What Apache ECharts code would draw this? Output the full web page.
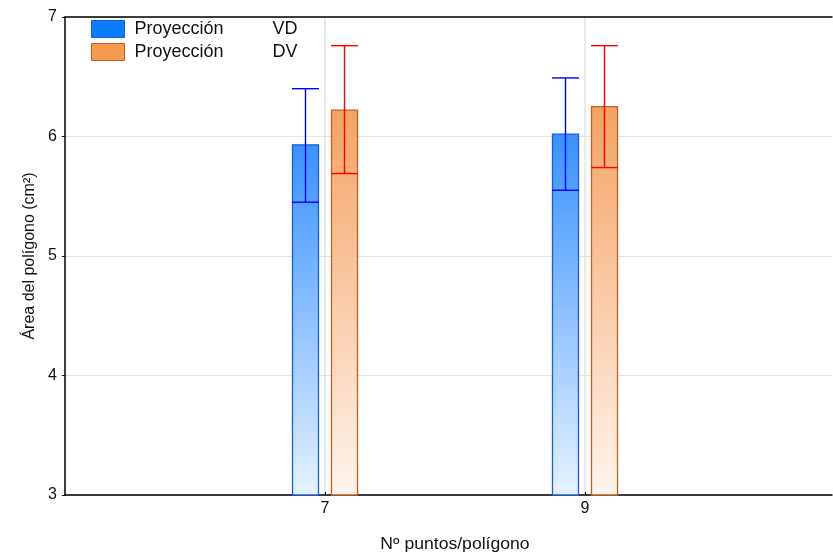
<!DOCTYPE html>
<html>
<head>
<meta charset="utf-8">
<script src="https://cdn.jsdelivr.net/npm/echarts@6/dist/echarts.min.js"></script>
<style>
  html, body { margin: 0; padding: 0; background: #fff; }
  #chart { width: 833px; height: 555px; }
</style>
</head>
<body>
<div id="chart"></div>
<script>
// Number of points per polygon (x categories)
const puntos = [7, 9];
// Projection VD: mean and interval limits
const vdMedia = [5.93, 6.02];
const vdInf = [5.45, 5.55];
const vdSup = [6.40, 6.49];
// Projection DV: mean and interval limits
const dvMedia = [6.22, 6.25];
const dvInf = [5.69, 5.74];
const dvSup = [6.76, 6.76];
// Axis ticks
const yTicks = [3, 4, 5, 6, 7];
const xTicks = [7, 9];

const FONT = 'Liberation Sans, Arial, sans-serif';
const X_MIN = 5, X_MAX = 10.9;

function rows(media, inf, sup) {
  return puntos.map((p, i) => [p, media[i], inf[i], sup[i]]);
}

function makeRender(offset, fill, border, errColor) {
  return function (params, api) {
    const x = api.value(0);
    const top = api.coord([x, api.value(1)]);
    const base = api.coord([x, yTicks[0]]);
    const lo = api.coord([x, api.value(2)]);
    const hi = api.coord([x, api.value(3)]);
    const w = 26;
    const cx = top[0] + offset;
    const half = w / 2;
    return {
      type: 'group',
      children: [
        {
          type: 'rect',
          shape: { x: cx - half, y: top[1], width: w, height: base[1] - top[1] },
          style: { fill: fill, stroke: border, lineWidth: 1.3 }
        },
        {
          type: 'line',
          shape: { x1: cx, y1: hi[1], x2: cx, y2: lo[1] },
          style: { stroke: errColor, lineWidth: 1.4 }
        },
        {
          type: 'line',
          shape: { x1: cx - half - 0.5, y1: hi[1], x2: cx + half + 0.5, y2: hi[1] },
          style: { stroke: errColor, lineWidth: 1.4 }
        },
        {
          type: 'line',
          shape: { x1: cx - half - 0.5, y1: lo[1], x2: cx + half + 0.5, y2: lo[1] },
          style: { stroke: errColor, lineWidth: 1.4 }
        }
      ]
    };
  };
}

const blueFill = {
  type: 'linear', x: 0, y: 0, x2: 0, y2: 1,
  colorStops: [{ offset: 0, color: '#3791ff' }, { offset: 1, color: '#e6f2ff' }]
};
const orangeFill = {
  type: 'linear', x: 0, y: 0, x2: 0, y2: 1,
  colorStops: [{ offset: 0, color: '#f5a263' }, { offset: 1, color: '#fef5ee' }]
};

const chart = echarts.init(document.getElementById('chart'), null, { renderer: 'canvas' });

chart.setOption({
  animation: false,
  backgroundColor: '#fff',
  grid: { left: 65, top: 17, right: 1, height: 478 },
  legend: {
    left: 86, top: 15, orient: 'vertical',
    itemWidth: 33, itemHeight: 17, itemGap: 5,
    icon: 'rect',
    data: [
      { name: 'Proyección VD', itemStyle: { color: '#0a7cff', borderColor: '#1a5ce0', borderWidth: 1 } },
      { name: 'Proyección DV', itemStyle: { color: '#f59a50', borderColor: '#c0601f', borderWidth: 1 } }
    ],
    formatter: function (name) {
      const parts = name.split(' ');
      return '{a|' + parts[0] + '}{b|' + parts[1] + '}';
    },
    textStyle: {
      rich: {
        a: { fontFamily: FONT, fontSize: 18, lineHeight: 17, color: '#111', width: 138, padding: [0, 0, 0, 5] },
        b: { fontFamily: FONT, fontSize: 18, lineHeight: 17, color: '#111' }
      }
    }
  },
  xAxis: [
    {
      type: 'value', min: X_MIN, max: X_MAX,
      axisLine: { show: true, lineStyle: { color: '#000', width: 1.5 } },
      axisTick: { show: true, inside: true, length: 3, customValues: xTicks, lineStyle: { color: '#000' } },
      axisLabel: {
        customValues: xTicks, margin: 6,
        fontFamily: FONT, fontSize: 16, color: '#111'
      },
      splitLine: { show: true, lineStyle: { color: '#e2e2e2', width: 1.5 } }
    },
    {
      // plain frame line along the top of the plot
      type: 'value', position: 'top', min: X_MIN, max: X_MAX,
      axisLine: { show: true, onZero: false, lineStyle: { color: '#000', width: 1.5 } },
      axisTick: { show: false },
      axisLabel: { show: false },
      splitLine: { show: false }
    }
  ],
  yAxis: {
    type: 'value', min: 3, max: 7, interval: 1,
    axisLine: { show: true, lineStyle: { color: '#000', width: 1.5 } },
    axisTick: { show: true, length: 3, lineStyle: { color: '#000' } },
    axisLabel: { margin: 8, fontFamily: FONT, fontSize: 16, color: '#111' },
    splitLine: { show: true, lineStyle: { color: '#e2e2e2', width: 1 } }
  },
  graphic: [
    {
      type: 'text', x: 30, y: 256, rotation: Math.PI / 2,
      style: {
        text: 'Área del polígono (cm²)', font: '16px ' + FONT, fill: '#111',
        textAlign: 'center', textVerticalAlign: 'middle'
      }
    },
    {
      type: 'text', x: 455, y: 545, scaleX: 1.1,
      style: {
        text: 'Nº puntos/polígono', font: '16px ' + FONT, fill: '#111',
        textAlign: 'center', textVerticalAlign: 'middle'
      }
    }
  ],
  series: [
    {
      name: 'Proyección VD', type: 'custom',
      itemStyle: { color: '#0a7cff' },
      encode: { x: 0, y: 1 },
      data: rows(vdMedia, vdInf, vdSup),
      renderItem: makeRender(-19.5, blueFill, '#1a5ce0', '#0000ff')
    },
    {
      name: 'Proyección DV', type: 'custom',
      itemStyle: { color: '#f59a50' },
      encode: { x: 0, y: 1 },
      data: rows(dvMedia, dvInf, dvSup),
      renderItem: makeRender(19.5, orangeFill, '#c0601f', '#ff0000')
    }
  ]
});
</script>
</body>
</html>
